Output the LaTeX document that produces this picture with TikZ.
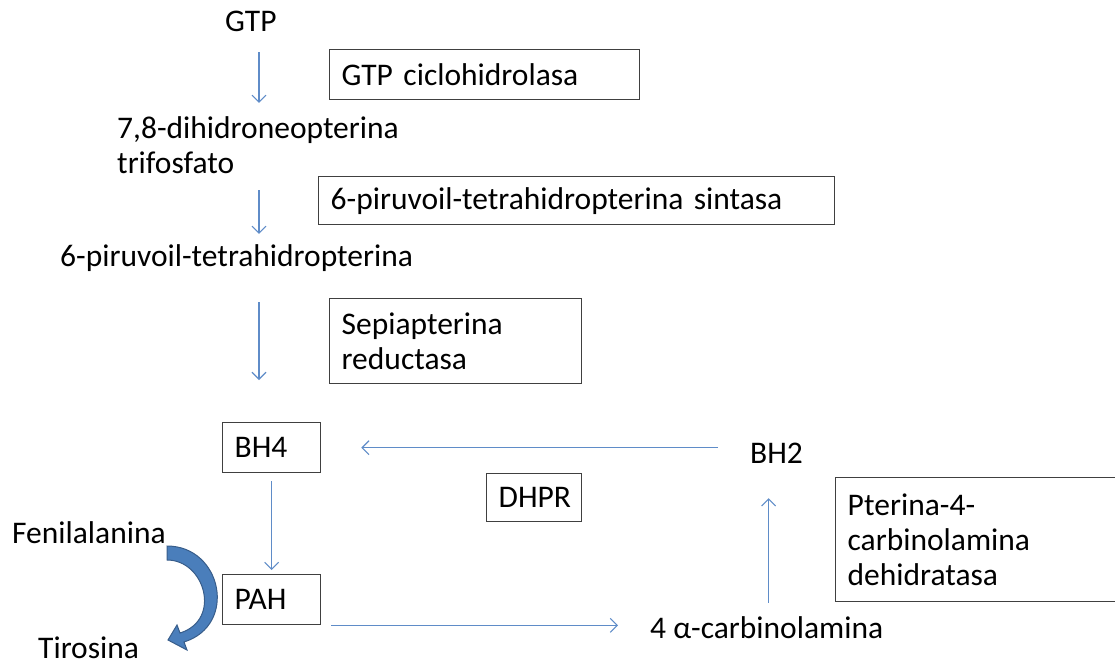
\documentclass[tikz,border=0pt]{standalone}
\usepackage{fontspec}
\setmainfont{Carlito}
\usetikzlibrary{arrows.meta}
\definecolor{azul}{HTML}{5F8CC8}
\definecolor{azulflecha}{HTML}{4A7EBB}
\definecolor{bordeflecha}{HTML}{385D8A}
\definecolor{gris}{HTML}{404040}
\tikzset{
  etiq/.style={inner sep=0pt, anchor=base west, align=left},
  caja/.style={draw=gris, line width=1.3pt, inner xsep=12pt, inner ysep=0pt, align=left, anchor=north west},
  flecha/.style={draw=azul, line width=1.1pt, -{Straight Barb[length=7pt,width=14pt]}},
}
\begin{document}
\begin{tikzpicture}[x=1pt,y=-1pt,font=\fontsize{31.5}{35}\selectfont]
\useasboundingbox (0,0) rectangle (1115,666);
% metabolitos
\node[etiq] (gtp) at (225,32) {GTP};
\node[etiq] (dhn) at (117,173) {7,8-dihidroneopterina\\trifosfato};
\node[etiq] (ptp) at (60,266) {6-piruvoil-tetrahidropterina};
\node[etiq] (bh2) at (750,463) {BH2};
\node[etiq] (carb) at (650,638) {4 α-carbinolamina};
\node[etiq] (fen) at (12,543) {Fenilalanina};
\node[etiq] (tir) at (38,658) {Tirosina};
% enzimas
\node[caja, text width=286, minimum height=50] (gch) at (329,49) {GTP ciclohidrolasa};
\node[caja, text width=492, minimum height=48] (pts) at (318,176) {6-piruvoil-tetrahidropterina sintasa};
\node[caja, text width=228, minimum height=85] (spr) at (329,298) {Sepiapterina\\reductasa};
\node[caja, text width=74, minimum height=50] (bh4) at (222,422) {BH4};
\node[caja, text width=71, minimum height=48] (dhpr) at (486,473) {DHPR};
\node[caja, text width=74, minimum height=50] (pah) at (222,574) {PAH};
\node[caja, text width=259, minimum height=124] (pcd) at (835,477) {Pterina-4-\\carbinolamina\\dehidratasa};
% flechas
\coordinate (eje) at (259,0);
\draw[flecha, shorten <=20pt, shorten >=13pt] (gtp.south -| eje) -- (dhn.north -| eje);
\draw[flecha, shorten <=17pt, shorten >=10pt] (dhn.south -| eje) -- (ptp.north -| eje);
\draw[flecha, shorten <=31pt, shorten >=42pt] (ptp.south -| eje) -- (bh4.north -| eje);
\draw[flecha, shorten <=32pt, shorten >=40pt] (bh2.west |- bh4) -- (bh4.east);
\draw[flecha, shorten <=8pt, shorten >=4pt] (bh4.south) -- (pah.north);
\draw[flecha, shorten <=10pt, shorten >=32pt] (pah.south east) -- (pah.south east -| carb.west);
\draw[flecha, shorten <=13pt, shorten >=35pt] ([xshift=-8pt]carb.north -| bh2) -- ([xshift=-8pt]bh2.south);
% fenilalanina -> tirosina
\filldraw[fill=azulflecha, draw=bordeflecha, line width=1pt] (167,546) .. controls (222,546) and (238,625) .. (184,642) -- (187,650) -- (168,640) -- (177,625) -- (180,633) .. controls (222,620) and (205,560) .. (167,560) -- cycle;
\end{tikzpicture}
\end{document}
